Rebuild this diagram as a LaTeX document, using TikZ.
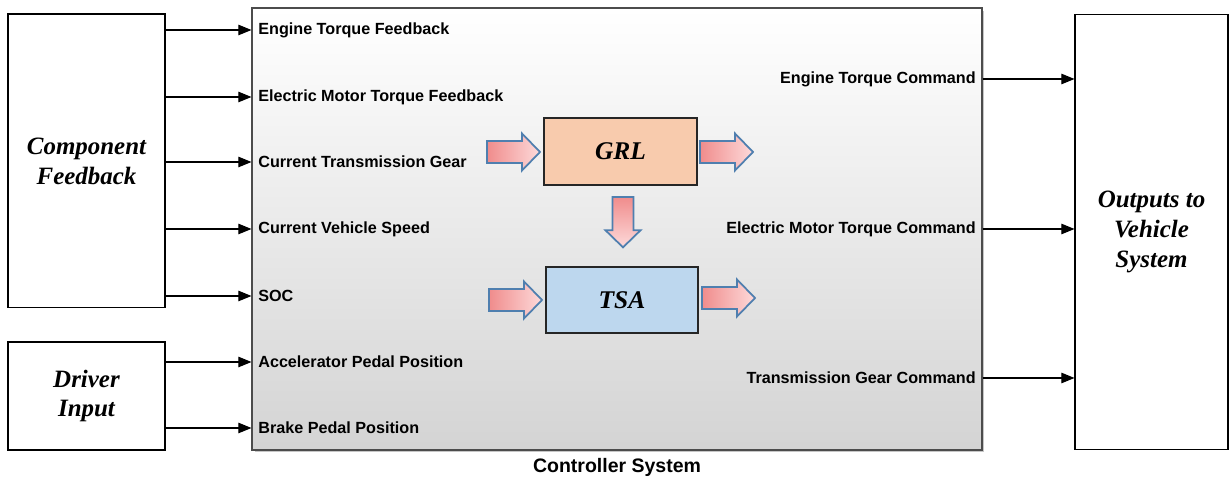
\documentclass[tikz,border=0pt]{standalone}
\usepackage{fontspec}
\setmainfont{Liberation Serif}
\setsansfont{Liberation Sans}
\usetikzlibrary{positioning, arrows.meta, shadows}

\definecolor{grlfill}{HTML}{F8CBAD}
\definecolor{tsafill}{HTML}{BDD7EE}
\definecolor{fatdark}{HTML}{F08C8C}
\definecolor{fatlight}{HTML}{FDDADA}
\definecolor{fatedge}{HTML}{4F7FAF}

\tikzset{
  sig/.style={-{Triangle[length=7.5pt, width=6pt]}, line width=0.6pt, draw=black},
  port/.style={font=\sffamily\bfseries\fontsize{9.2}{11}\selectfont, inner sep=0pt},
  ext/.style={draw, line width=0.6pt, fill=white, align=center,
    font=\bfseries\itshape\fontsize{14.2}{17}\selectfont},
  algo/.style={draw=black!85, line width=0.7pt, font=\bfseries\itshape\fontsize{14.5}{17}\selectfont},
  fat/.style={draw=fatedge, line width=1pt, left color=fatdark, right color=fatlight},
  fatarrow/.pic={\path[fat] (0,-11) -- (35,-11) -- (35,-18.5) -- (53,0) -- (35,18.5) -- (35,11) -- (0,11) -- cycle;}
}

\begin{document}
\begin{tikzpicture}[x=0.02cm, y=-0.02cm]
\useasboundingbox (0,0) rectangle (1231,479);

% controller block
\node[draw=black!70, line width=0.7pt, minimum width=14.6cm, minimum height=8.84cm,
  top color=white, middle color=white, bottom color=black!17,
  drop shadow={shadow xshift=0.05cm, shadow yshift=-0.05cm, opacity=0.45}] (ctrl) at (617,229) {};
\node[port, font=\sffamily\bfseries\fontsize{11.1}{13}\selectfont] (ctrlname) at (617,467) {Controller System};

% outer blocks
\node[ext, minimum width=3.14cm, minimum height=5.88cm] (cf) at (86.5,161) {Component\\Feedback};
\node[ext, minimum width=3.14cm, minimum height=2.16cm] (drv) at (86.5,396) {Driver\\Input};
\node[ext, minimum width=3.06cm, minimum height=8.72cm] (ovs) at (1151.5,232) {Outputs to\\Vehicle\\System};

% inputs
\foreach \i/\y/\t in {1/30/Engine Torque Feedback, 2/97/Electric Motor Torque Feedback,
  3/162/Current Transmission Gear, 4/229/Current Vehicle Speed, 5/296/SOC} {
  \node[port, anchor=west] (in\i) at (258,\y) {\t};
  \draw[sig] (cf.east |- in\i.west) -- (ctrl.west |- in\i.west);
}
\foreach \i/\y/\t in {6/362/Accelerator Pedal Position, 7/428/Brake Pedal Position} {
  \node[port, anchor=west] (in\i) at (258,\y) {\t};
  \draw[sig] (drv.east |- in\i.west) -- (ctrl.west |- in\i.west);
}

% outputs
\foreach \i/\y/\t in {1/79/Engine Torque Command, 2/229/Electric Motor Torque Command,
  3/378/Transmission Gear Command} {
  \node[port, anchor=east] (out\i) at (976,\y) {\t};
  \draw[sig] (ctrl.east |- out\i.east) -- (ovs.west |- out\i.east);
}

% GRL and TSA
\node[algo, fill=grlfill, minimum width=3.06cm, minimum height=1.34cm] (grl) at (620.5,151.5) {GRL};
\node[algo, fill=tsafill, minimum width=3.04cm, minimum height=1.32cm] (tsa) at (622,300) {TSA};
\pic at (487,152) {fatarrow};
\pic at (700,152) {fatarrow};
\begin{scope}[fat/.style={draw=fatedge, line width=1pt, top color=fatdark, bottom color=fatlight}]
\pic[rotate=-90, scale=0.95] at (623,197) {fatarrow};
\end{scope}
\pic at (489,300) {fatarrow};
\pic at (702,298) {fatarrow};
\end{tikzpicture}
\end{document}
